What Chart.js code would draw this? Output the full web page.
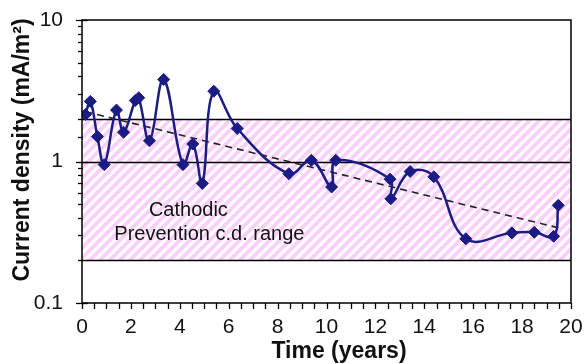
<!DOCTYPE html>
<html><head><meta charset="utf-8">
<script src="https://cdn.jsdelivr.net/npm/chart.js@4/dist/chart.umd.min.js"></script>
<style>html,body{margin:0;padding:0;background:#fff;}#wrap{width:586px;height:364px;position:relative}</style>
</head><body><div id="wrap"><canvas id="c" width="586" height="364"></canvas></div>
<script>
// ---- data ----
const years   = [0.14,0.34,0.63,0.91,1.41,1.70,2.18,2.32,2.76,3.34,4.13,4.53,4.92,5.39,6.35,8.46,9.38,10.21,10.38,12.60,12.63,13.42,14.39,15.70,17.58,18.50,19.29,19.48];
const density = [2.15,2.66,1.50,0.95,2.31,1.61,2.70,2.82,1.40,3.80,0.95,1.33,0.70,3.14,1.71,0.82,1.02,0.66,1.02,0.75,0.545,0.85,0.78,0.284,0.313,0.316,0.296,0.49];
const trendYears   = [0.14, 19.48];
const trendDensity = [2.25, 0.34];
const bandRange = [0.2, 2];
const refLines  = [0.2, 1, 2];
const yTickLabels = [0.1, 1, 10];
const xTickLabels = [0,2,4,6,8,10,12,14,16,18,20];
const noteLines = ['Cathodic', 'Prevention c.d. range'];
const noteAnchors = [[4.35, 0.41], [5.21, 0.28]]; // [year, density] anchors for text
const xTitle = 'Time (years)';
const yTitle = 'Current density (mA/m\u00B2)';

const FONT = '"Liberation Sans", Arial, sans-serif';
const NAVY = '#1b1b86';

function makePattern(ctx){
  const n = 10;
  const c = document.createElement('canvas'); c.width = n; c.height = n;
  const p = c.getContext('2d');
  p.fillStyle = '#ffffff'; p.fillRect(0,0,n,n);
  p.strokeStyle = '#fad0fa'; p.lineWidth = 4;
  [[-n,n,n,-n],[0,n,n,0],[0,2*n,2*n,0]].forEach(([a,b,c2,d])=>{p.beginPath();p.moveTo(a,b);p.lineTo(c2,d);p.stroke();});
  return ctx.createPattern(c,'repeat');
}

function zeroPad(s){ s.paddingTop = 0; s.paddingBottom = 0; s.paddingLeft = 0; s.paddingRight = 0; }

const decor = {
  id: 'decor',
  beforeDatasetsDraw(chart){
    const {ctx, chartArea:a, scales:{x,y}} = chart;
    ctx.save();
    const yTop = y.getPixelForValue(bandRange[1]), yBot = y.getPixelForValue(bandRange[0]);
    ctx.fillStyle = makePattern(ctx);
    ctx.fillRect(a.left, yTop, a.right - a.left, yBot - yTop);
    ctx.strokeStyle = '#000'; ctx.lineWidth = 1.4;
    refLines.forEach(v=>{
      const py = Math.round(y.getPixelForValue(v)) + 0.5;
      ctx.beginPath(); ctx.moveTo(a.left, py); ctx.lineTo(a.right, py); ctx.stroke();
    });
    ctx.fillStyle = '#111'; ctx.font = '20px ' + FONT; ctx.textAlign = 'center'; ctx.textBaseline = 'alphabetic';
    noteLines.forEach((t,i)=>{
      ctx.fillText(t, x.getPixelForValue(noteAnchors[i][0]), y.getPixelForValue(noteAnchors[i][1]));
    });
    ctx.restore();
  },
  afterDraw(chart){
    const {ctx, chartArea:a, scales:{x,y}} = chart;
    ctx.save();
    ctx.strokeStyle = '#000'; ctx.lineWidth = 1.5;
    ctx.beginPath();
    ctx.moveTo(a.left, a.bottom); ctx.lineTo(a.left, a.top); ctx.lineTo(a.right, a.top); ctx.lineTo(a.right, a.bottom); ctx.lineTo(a.left, a.bottom);
    ctx.stroke();
    ctx.lineWidth = 1.3;
    y.ticks.forEach(t=>{
      const py = Math.round(y.getPixelForValue(t.value)) + 0.5;
      const major = Math.abs(Math.log10(t.value) - Math.round(Math.log10(t.value))) < 1e-6;
      ctx.beginPath();
      if (major) { ctx.moveTo(a.left - 6, py); ctx.lineTo(a.left + 6, py); }
      else { ctx.moveTo(a.left - 4, py); ctx.lineTo(a.left + 1, py); }
      ctx.stroke();
    });
    x.ticks.forEach(t=>{
      const px = Math.round(x.getPixelForValue(t.value)) + 0.5;
      ctx.beginPath(); ctx.moveTo(px, a.bottom); ctx.lineTo(px, a.bottom + 6); ctx.stroke();
    });
    ctx.fillStyle = '#111'; ctx.font = 'bold 23px ' + FONT; ctx.textAlign = 'center'; ctx.textBaseline = 'middle';
    ctx.fillText(xTitle, 339, 352);
    ctx.translate(23, 150); ctx.rotate(-Math.PI/2);
    ctx.fillText(yTitle, 0, 0);
    ctx.restore();
  }
};

new Chart(document.getElementById('c'), {
  type: 'scatter',
  data: {
    datasets: [
      {
        data: years.map((v,i)=>({x:v, y:density[i]})),
        showLine: true, tension: 0.4,
        borderColor: NAVY, borderWidth: 2.5,
        pointStyle: 'rectRot', pointRadius: 6, pointHoverRadius: 6,
        pointBackgroundColor: NAVY, pointBorderColor: NAVY, pointBorderWidth: 1
      },
      {
        data: trendYears.map((v,i)=>({x:v, y:trendDensity[i]})),
        showLine: true, tension: 0,
        borderColor: '#222', borderWidth: 1.6, borderDash: [7,5],
        pointRadius: 0, pointHoverRadius: 0
      }
    ]
  },
  options: {
    responsive: false, animation: false, devicePixelRatio: 1,
    layout: { padding: { left: 0, right: 15, top: 20, bottom: 0 } },
    plugins: { legend: { display: false }, tooltip: { enabled: false } },
    scales: {
      x: {
        type: 'linear', min: 0, max: 20,
        grid: { display: false, drawTicks: false }, border: { display: false },
        ticks: {
          stepSize: 0.5, autoSkip: false, maxRotation: 0, padding: 12,
          color: '#111', font: { family: FONT, size: 21 },
          callback: v => xTickLabels.includes(v) ? String(v) : ''
        },
        afterFit(s){ s.height = 61; zeroPad(s); }
      },
      y: {
        type: 'logarithmic', min: 0.1, max: 10,
        grid: { display: false, drawTicks: false }, border: { display: false },
        ticks: {
          autoSkip: false, padding: 19,
          color: '#111', font: { family: FONT, size: 21 },
          callback: v => yTickLabels.some(t=>Math.abs(t - v) < 1e-9) ? String(v) : ''
        },
        afterFit(s){ s.width = 82; zeroPad(s); }
      }
    }
  },
  plugins: [decor]
});
</script>
</body></html>
